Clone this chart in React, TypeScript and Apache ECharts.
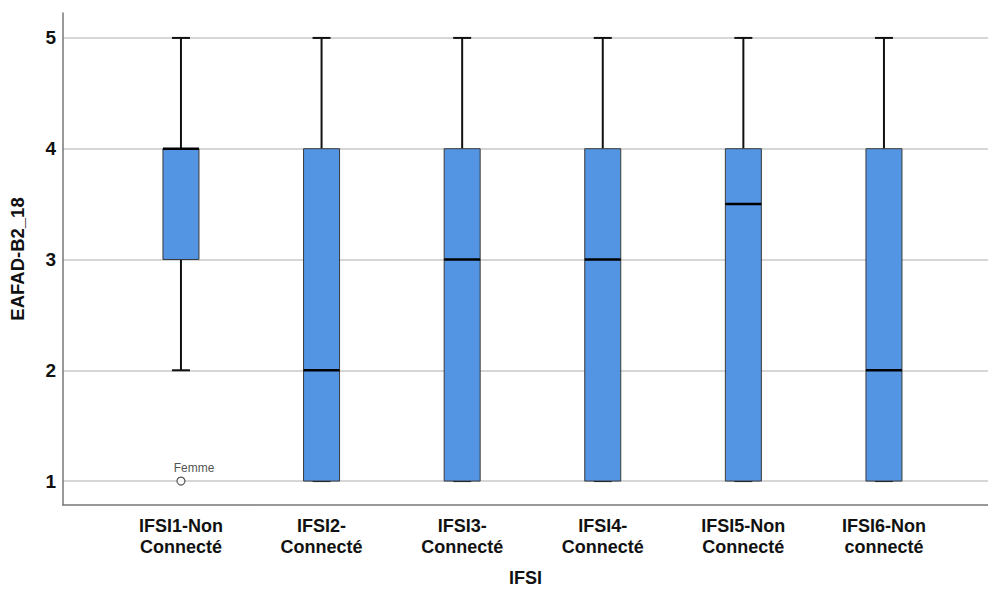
import React, { useEffect, useRef } from "react";
import * as echarts from "echarts";

const categories = ["IFSI1-Non\nConnecté", "IFSI2-\nConnecté", "IFSI3-\nConnecté", "IFSI4-\nConnecté", "IFSI5-Non\nConnecté", "IFSI6-Non\nconnecté"];
const mins = [2, 1, 1, 1, 1, 1];
const q1s = [3, 1, 1, 1, 1, 1];
const medians = [4, 2, 3, 3, 3.5, 2];
const q3s = [4, 4, 4, 4, 4, 4];
const maxs = [5, 5, 5, 5, 5, 5];
const outliers = [[0, 1, "Femme"]];
const yTicks = [1, 2, 3, 4, 5];

export default function App() {
  const ref = useRef<HTMLDivElement>(null);
  useEffect(() => {
    const chart = echarts.init(ref.current!, null, { renderer: "svg" });
    const boxData = categories.map((_, i) => [i, mins[i], q1s[i], medians[i], q3s[i], maxs[i]]);
    const font = "'Liberation Sans', Arial, sans-serif";
    chart.setOption({
      animation: false,
      grid: { left: 63, right: 0, top: 13, bottom: 86 },
      xAxis: {
        type: "value",
        min: -0.839,
        max: 5.74,
        splitLine: { show: false },
        axisLine: { show: true, onZero: false, lineStyle: { color: "#777", width: 1.5 } },
        axisTick: { show: false },
        axisLabel: {
          customValues: [0, 1, 2, 3, 4, 5],
          formatter: (v: number) => categories[Math.round(v)] ?? "",
          color: "#111",
          fontWeight: "bold",
          fontSize: 18,
          fontFamily: font,
          lineHeight: 21,
          margin: 10,
        },
        name: "IFSI",
        nameLocation: "middle",
        nameGap: 64,
        nameTextStyle: { color: "#111", fontSize: 18, fontWeight: "bold", fontFamily: font },
      },
      yAxis: {
        type: "value",
        min: 0.784,
        max: 5.225,
        axisLine: { show: true, onZero: false, lineStyle: { color: "#777", width: 1.5 } },
        axisTick: { show: false },
        splitLine: { show: false },
        axisLabel: {
          customValues: yTicks,
          color: "#111",
          fontWeight: "bold",
          fontSize: 19,
          fontFamily: font,
          margin: 7,
        },
        name: "EAFAD-B2_18",
        nameLocation: "middle",
        nameGap: 36,
        nameTextStyle: { color: "#111", fontSize: 18.5, fontWeight: "bold", fontFamily: font },
      },
      series: [
        {
          type: "line",
          data: [],
          z: 0,
          markLine: {
            silent: true,
            z: 0,
            symbol: "none",
            label: { show: false },
            lineStyle: { color: "#c8c8c8", width: 1.5, type: "solid" },
            data: yTicks.map((v) => ({ yAxis: v })),
          },
        },
        {
          type: "custom",
          data: boxData,
          encode: { x: 0, y: [1, 2, 3, 4, 5] },
          renderItem: (params: any, api: any) => {
            const x = api.value(0);
            const pMin = api.coord([x, api.value(1)]);
            const pQ1 = api.coord([x, api.value(2)]);
            const pMed = api.coord([x, api.value(3)]);
            const pQ3 = api.coord([x, api.value(4)]);
            const pMax = api.coord([x, api.value(5)]);
            const cx = pMin[0];
            const bw = 36;
            const cw = 18;
            return {
              type: "group",
              children: [
                { type: "line", shape: { x1: cx, y1: pMax[1], x2: cx, y2: pQ3[1] }, style: { stroke: "#111", lineWidth: 2 } },
                { type: "line", shape: { x1: cx, y1: pQ1[1], x2: cx, y2: pMin[1] }, style: { stroke: "#111", lineWidth: 2 } },
                { type: "line", shape: { x1: cx - cw / 2, y1: pMax[1], x2: cx + cw / 2, y2: pMax[1] }, style: { stroke: "#111", lineWidth: 2 } },
                { type: "line", shape: { x1: cx - cw / 2, y1: pMin[1], x2: cx + cw / 2, y2: pMin[1] }, style: { stroke: "#111", lineWidth: 2 } },
                { type: "rect", shape: { x: cx - bw / 2, y: pQ3[1], width: bw, height: pQ1[1] - pQ3[1] }, style: { fill: "#5394e3", stroke: "#3a3a3a", lineWidth: 1 } },
                { type: "line", shape: { x1: cx - bw / 2, y1: pMed[1], x2: cx + bw / 2, y2: pMed[1] }, style: { stroke: "#000", lineWidth: 2.5 } },
              ],
            };
          },
          z: 5,
        },
        {
          type: "scatter",
          data: outliers.map((o) => [o[0], o[1], o[2]]),
          symbol: "circle",
          symbolSize: 8,
          itemStyle: { color: "#fff", borderColor: "#333", borderWidth: 1.2 },
          label: {
            show: true,
            formatter: (p: any) => p.value[2],
            position: "top",
            offset: [13, 3],
            fontSize: 12,
            color: "#222",
            fontFamily: font,
          },
          z: 6,
        },
      ],
    });
    return () => chart.dispose();
  }, []);
  return <div ref={ref} style={{ width: 988, height: 592, position: "absolute", left: 0, top: 0 }} />;
}
